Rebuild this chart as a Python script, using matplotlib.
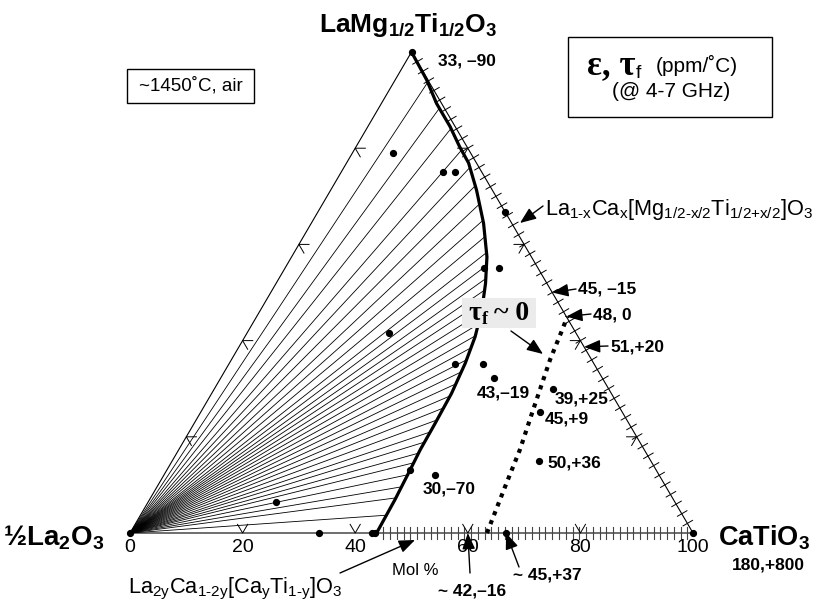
import numpy as np
import matplotlib.pyplot as plt
from matplotlib import font_manager
from matplotlib.patches import Rectangle

# Boundary of the single-phase perovskite field (mol % CaTiO3, mol % LaMg1/2Ti1/2O3)
edge_cati = [0, 5.6, 9.8, 14.6, 18.4, 21.7, 25.9, 30.6, 34.7, 37.2, 39.3,
             40.9, 41.9, 42.6, 42.8, 42.9, 43.2, 43.6, 43.8]
edge_lmt = [100, 94.2, 89.3, 84.5, 80.3, 76.9, 71.3, 64.4, 57.4, 51.9, 46.4,
            40.8, 35.3, 29.0, 22.8, 17.3, 13.1, 6.9, 0]

# Tie lines from 1/2La2O3 end on the boundary at these LaMg1/2Ti1/2O3 levels
tie_lmt = [93.7, 88.3, 84.1, 79.6, 76.0, 72.2, 68.4, 65.0, 61.6, 58.3, 55.6,
           52.9, 50.5, 48.2, 45.8, 43.4, 41.0, 38.5, 36.0, 33.5, 31.0, 28.5,
           26.0, 23.5, 21.0, 18.9, 16.6, 14.6, 12.1, 9.6, 7.3, 3.7]

# tau_f ~ 0 trace
tau0_cati = [63.4, 61.7, 60.6, 58.8, 56.6, 55.7, 55.2]
tau0_lmt = [0, 10.3, 17.3, 25.6, 36.0, 41.9, 45.0]

# Compositions that were made
sample_cati = [0, 7.2, 18.1, 20.2, 33.3, 35.3, 38.1, 25.2, 40.2, 45.1, 48.6,
               60.2, 60.2, 65.2, 48.1, 43.2, 22.7, 33.6, 42.9, 43.6, 66.8, 100, 0]
sample_lmt = [100, 79.1, 75.0, 75.0, 66.7, 55.0, 55.0, 41.6, 35.1, 35.1, 32.2,
              29.9, 25.1, 15.0, 12.1, 13.0, 6.4, 0, 0, 0, 0, 0, 0]

# Points on the La1-xCax[...]O3 join that carry eps, tau_f labels
join_lmt = [50, 45, 38.7]
join_text = ["45, \u201315", "48, 0", "51,+20"]

base_ticks = [0, 20, 40, 60, 80, 100]

W, H = 815, 605
SQ = np.sqrt(3) / 2

names = {f.name for f in font_manager.fontManager.ttflist}
narrow = "Liberation Sans Narrow" if "Liberation Sans Narrow" in names else "Liberation Sans"

plt.rcParams["font.family"] = ["Liberation Sans", "DejaVu Sans"]
plt.rcParams["mathtext.fontset"] = "custom"
plt.rcParams["mathtext.rm"] = "Liberation Sans"
plt.rcParams["mathtext.it"] = "Liberation Sans:italic"
plt.rcParams["mathtext.bf"] = "Liberation Sans:bold"


def tern(b, c):
    b = np.asarray(b, float)
    c = np.asarray(c, float)
    return b + c / 2, c * SQ


fig = plt.figure(figsize=(W / 100, H / 100), dpi=100)
ax = fig.add_axes([0, 0, 1, 1])
ax.set_xlim(-130 / 5.63, (W - 130) / 5.63)
ax.set_ylim((533 - H) / 5.554, 533 / 5.554)
ax.axis("off")


def put(x, y, s, **kw):
    fig.text(x / W, 1 - y / H, s, **kw)


def box(x0, y0, x1, y1, **kw):
    fig.add_artist(Rectangle((x0 / W, 1 - y1 / H), (x1 - x0) / W, (y1 - y0) / H,
                             transform=fig.transFigure, **kw))


def arrow(xy, xytext, coords="figure pixels"):
    if coords == "figure pixels":
        xy = (xy[0], H - xy[1])
    ax.annotate("", xy=xy, xycoords=coords, xytext=(xytext[0], H - xytext[1]),
                textcoords="figure pixels",
                arrowprops=dict(arrowstyle="-|>,head_length=0.7,head_width=0.28",
                                color="black", lw=1.0, mutation_scale=14,
                                shrinkA=0, shrinkB=0))


# triangle
tx, ty = tern([0, 100, 0, 0], [0, 0, 100, 0])
ax.plot(tx, ty, color="black", lw=0.8)

# tie lines
tie_cati = np.interp(tie_lmt, edge_lmt[::-1], edge_cati[::-1])
for b, c in zip(tie_cati, tie_lmt):
    lx, ly = tern([0, b], [0, c])
    ax.plot(lx, ly, color="black", lw=0.6)

# phase boundary
bx, by = tern(edge_cati, edge_lmt)
ax.plot(bx, by, color="black", lw=2.3, solid_capstyle="round")

# ticks on the right edge
px_x, px_y = 5.63, 5.554
nx, ny = 0.864, 0.503
for c in np.arange(2, 100, 2):
    x0, y0 = tern(100 - c, c)
    ax.plot([x0 - 5 * nx / px_x, x0 + 6 * nx / px_x],
            [y0 - 5 * ny / px_y, y0 + 6 * ny / px_y], color="black", lw=0.7)

# ticks on the base
for b in np.arange(45, 100, 1.2):
    ax.plot([b, b], [-6 / px_y, 6 / px_y], color="#444444", lw=0.8)

# 20 % grid marks
L = 1.8
for v in [20, 40, 60, 80]:
    ax.plot([v - 0.5 * L, v, v + 0.5 * L], [SQ * L, 0, SQ * L], color="black", lw=0.7)
    x0, y0 = tern(0, v)
    ax.plot([x0 + L, x0, x0 + 0.5 * L], [y0, y0, y0 - SQ * L], color="black", lw=0.7)
    x0, y0 = tern(100 - v, v)
    ax.plot([x0 - L, x0, x0 - 0.5 * L], [y0, y0, y0 - SQ * L], color="black", lw=0.7)

# tau_f ~ 0 trace
dx, dy = tern(tau0_cati, tau0_lmt)
ax.plot(dx, dy, color="black", lw=3.0, linestyle=(0, (1, 1.3)))

# samples
sx, sy = tern(sample_cati, sample_lmt)
ax.plot(sx, sy, "o", color="black", ms=4.2, zorder=5)

# labels on the join
for c, s, (tx_, ty_) in zip(join_lmt, join_text, [(578, 294), (593, 319), (610, 351)]):
    put(tx_, ty_, s, fontsize=12.5, fontweight="bold", va="baseline")
    arrow(tern(100 - c, c), (tx_ - 2, ty_ - 5), coords="data")

bold = dict(fontsize=12.5, fontweight="bold", va="baseline")
put(438, 65, "33, \u201390", **bold)
put(477, 398, "43,\u201319", **bold)
put(555, 404, "39,+25", **bold)
put(545, 424, "45,+9", **bold)
put(547, 468, "50,+36", **bold)
put(423, 493, "30,\u201370", **bold)
put(438, 596, "~ 42,\u201316", **bold)
put(513, 579, "~ 45,+37", **bold)
put(732, 569, "180,+800", **bold)
arrow(tern(60, 0), (470, 573), coords="data")
arrow(tern(66.8, 0), (519, 567), coords="data")

# end members
put(408, 32, r"$\mathbf{LaMg_{1/2}Ti_{1/2}O_3}$", fontsize=19, ha="center", va="baseline")
put(3, 546, "$\\mathbf{\u00bdLa_2O_3}$", fontsize=20, va="baseline")
put(718, 546, r"$\mathbf{CaTiO_3}$", fontsize=19.5, va="baseline")

# base tick labels
for v in base_ticks:
    put(130 + 5.63 * v, 548, str(v), fontsize=14, family=narrow, ha="center", va="center")
put(392, 575, "Mol %", fontsize=12, family=narrow, va="baseline")

# solid-solution formulas
put(545, 215, r"$\mathrm{La_{1\text{-}x}Ca_x[Mg_{1/2\text{-}x/2}Ti_{1/2\text{+}x/2}]O_3}$",
    fontsize=15.7, va="baseline")
arrow((520, 223), (543, 206))
put(128, 593, r"$\mathrm{La_{2y}Ca_{1\text{-}2y}[Ca_yTi_{1\text{-}y}]O_3}$",
    fontsize=15.7, va="baseline")
arrow((415, 540), (340, 573))

# boxes
box(127, 69, 254, 103, facecolor="white", edgecolor="black", lw=1)
put(190.5, 86, "~1450\u02daC, air", fontsize=13.5, ha="center", va="center")

box(568, 37, 772, 117, facecolor="white", edgecolor="black", lw=1)
put(587, 74, "\u03b5, \u03c4", fontsize=25, family="Liberation Serif", fontweight="bold",
    va="baseline")
put(636, 78, "f", fontsize=14, va="baseline")
put(656, 72, "(ppm/\u02daC)", fontsize=15, va="baseline")
put(671, 97, "(@ 4-7 GHz)", fontsize=15, ha="center", va="baseline")

box(462, 298, 536, 328, facecolor="#ebebeb", edgecolor="none")
put(468, 320, "\u03c4", fontsize=20, family="Liberation Serif", fontweight="bold",
    va="baseline")
put(482, 324, "f", fontsize=13, family="Liberation Serif", fontweight="bold", va="baseline")
put(494, 320, "~ 0", fontsize=20, family="Liberation Serif", fontweight="bold",
    va="baseline")
arrow((543, 354), (511, 331))

fig.savefig("out.png", dpi=100)
